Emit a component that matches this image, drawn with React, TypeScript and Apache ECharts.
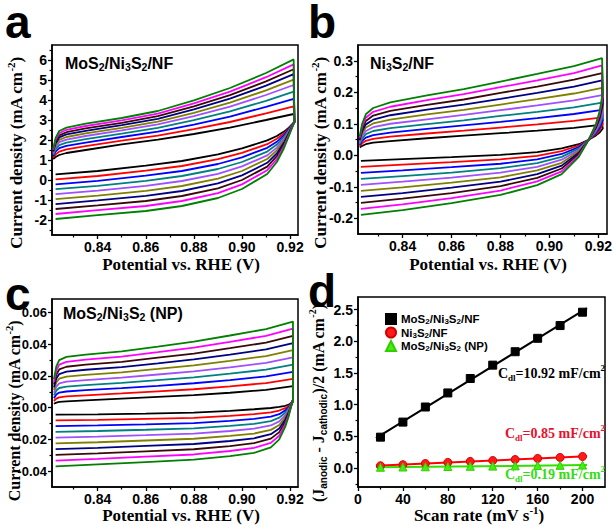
import React, { useEffect, useRef } from "react";
import * as echarts from "echarts";

// ---------- data ----------
const COLORS = ["#000000", "#ff0000", "#0000ff", "#008080", "#a050ff", "#808000", "#000080", "#3a0a0a", "#ff00ff", "#008000"];

// panel a : MoS2/Ni3S2/NF
const A_X_UP = [0.8215, 0.8225, 0.824, 0.827, 0.835, 0.85, 0.865, 0.88, 0.895, 0.91, 0.9215];
const A_UP = [
  [1.05, 1.15, 1.25, 1.35, 1.5, 1.78, 2.02, 2.3, 2.62, 3.0, 3.3],
  [1.12, 1.28, 1.42, 1.53, 1.69, 1.97, 2.22, 2.54, 2.9, 3.33, 3.68],
  [1.19, 1.42, 1.59, 1.71, 1.87, 2.15, 2.42, 2.77, 3.17, 3.66, 4.06],
  [1.26, 1.54, 1.74, 1.87, 2.04, 2.32, 2.61, 2.99, 3.43, 3.96, 4.42],
  [1.32, 1.65, 1.89, 2.02, 2.2, 2.48, 2.78, 3.19, 3.67, 4.25, 4.75],
  [1.37, 1.75, 2.01, 2.15, 2.33, 2.61, 2.92, 3.36, 3.87, 4.48, 5.02],
  [1.42, 1.84, 2.13, 2.28, 2.46, 2.74, 3.06, 3.53, 4.07, 4.72, 5.29],
  [1.46, 1.93, 2.23, 2.39, 2.58, 2.86, 3.19, 3.68, 4.24, 4.93, 5.54],
  [1.51, 2.02, 2.34, 2.51, 2.7, 2.98, 3.32, 3.83, 4.42, 5.14, 5.78],
  [1.55, 2.1, 2.45, 2.62, 2.82, 3.1, 3.45, 3.98, 4.6, 5.35, 6.03],
];
const A_X_DN = [0.9218, 0.9195, 0.9175, 0.9145, 0.9105, 0.9, 0.89, 0.875, 0.86, 0.84, 0.8225];
const A_DN = [
  [2.9, 2.62, 2.42, 2.2, 1.98, 1.58, 1.28, 0.95, 0.72, 0.45, 0.28],
  [2.9, 2.57, 2.33, 2.06, 1.79, 1.36, 1.04, 0.7, 0.47, 0.2, 0.03],
  [2.9, 2.53, 2.24, 1.91, 1.61, 1.13, 0.8, 0.45, 0.22, -0.04, -0.22],
  [2.9, 2.48, 2.15, 1.77, 1.42, 0.9, 0.55, 0.2, -0.04, -0.29, -0.46],
  [2.9, 2.43, 2.06, 1.62, 1.23, 0.68, 0.31, -0.05, -0.29, -0.53, -0.71],
  [2.9, 2.39, 1.96, 1.48, 1.05, 0.45, 0.07, -0.3, -0.54, -0.78, -0.96],
  [2.9, 2.34, 1.87, 1.33, 0.86, 0.23, -0.17, -0.55, -0.79, -1.02, -1.21],
  [2.9, 2.29, 1.78, 1.19, 0.67, 0.0, -0.42, -0.8, -1.05, -1.27, -1.45],
  [2.9, 2.25, 1.69, 1.04, 0.49, -0.22, -0.66, -1.05, -1.3, -1.51, -1.7],
  [2.9, 2.2, 1.6, 0.9, 0.3, -0.45, -0.9, -1.3, -1.55, -1.76, -1.95],
];

// panel b : Ni3S2/NF
const B_X_UP = [0.8225, 0.8235, 0.825, 0.828, 0.835, 0.85, 0.865, 0.88, 0.895, 0.91, 0.9215];
const B_UP = [
  [0.025, 0.03, 0.035, 0.04, 0.045, 0.054, 0.062, 0.07, 0.078, 0.087, 0.097],
  [0.029, 0.038, 0.046, 0.052, 0.059, 0.069, 0.078, 0.088, 0.098, 0.109, 0.12],
  [0.033, 0.046, 0.056, 0.064, 0.072, 0.084, 0.095, 0.106, 0.118, 0.131, 0.144],
  [0.037, 0.053, 0.067, 0.077, 0.086, 0.099, 0.111, 0.125, 0.138, 0.152, 0.167],
  [0.041, 0.061, 0.077, 0.089, 0.1, 0.114, 0.128, 0.143, 0.158, 0.174, 0.191],
  [0.045, 0.069, 0.088, 0.101, 0.113, 0.13, 0.144, 0.161, 0.178, 0.196, 0.214],
  [0.048, 0.077, 0.098, 0.113, 0.127, 0.145, 0.161, 0.179, 0.198, 0.218, 0.238],
  [0.052, 0.084, 0.109, 0.126, 0.141, 0.16, 0.177, 0.198, 0.218, 0.24, 0.261],
  [0.056, 0.092, 0.119, 0.138, 0.154, 0.175, 0.194, 0.216, 0.238, 0.261, 0.285],
  [0.06, 0.1, 0.13, 0.15, 0.168, 0.19, 0.21, 0.234, 0.258, 0.283, 0.308],
];
const B_X_DN = [0.9218, 0.9205, 0.919, 0.916, 0.912, 0.905, 0.895, 0.88, 0.86, 0.84, 0.823];
const B_DN = [
  [0.085, 0.072, 0.063, 0.049, 0.035, 0.022, 0.01, 0.001, -0.006, -0.012, -0.018],
  [0.098, 0.08, 0.067, 0.049, 0.031, 0.013, -0.002, -0.013, -0.022, -0.03, -0.037],
  [0.111, 0.087, 0.071, 0.049, 0.026, 0.004, -0.013, -0.027, -0.038, -0.048, -0.056],
  [0.123, 0.095, 0.075, 0.049, 0.022, -0.005, -0.025, -0.041, -0.055, -0.066, -0.075],
  [0.136, 0.102, 0.079, 0.049, 0.017, -0.014, -0.037, -0.055, -0.071, -0.084, -0.094],
  [0.149, 0.11, 0.084, 0.049, 0.013, -0.024, -0.048, -0.07, -0.087, -0.102, -0.113],
  [0.162, 0.117, 0.088, 0.049, 0.008, -0.033, -0.06, -0.084, -0.103, -0.12, -0.132],
  [0.174, 0.125, 0.092, 0.049, 0.004, -0.042, -0.072, -0.098, -0.12, -0.138, -0.151],
  [0.187, 0.132, 0.096, 0.049, -0.001, -0.051, -0.083, -0.112, -0.136, -0.156, -0.17],
  [0.2, 0.14, 0.1, 0.049, -0.005, -0.06, -0.095, -0.126, -0.152, -0.174, -0.189],
];

// panel c : MoS2/Ni3S2 (NP)
const C_X_UP = [0.8218, 0.8228, 0.824, 0.827, 0.835, 0.85, 0.865, 0.88, 0.895, 0.91, 0.9212];
const C_UP = [
  [0.0025, 0.0032, 0.0036, 0.004, 0.0046, 0.0057, 0.0068, 0.0079, 0.0094, 0.0112, 0.0136],
  [0.0042, 0.0057, 0.0065, 0.0071, 0.0078, 0.009, 0.0103, 0.0116, 0.0134, 0.0155, 0.0181],
  [0.0059, 0.0083, 0.0095, 0.0102, 0.011, 0.0123, 0.0138, 0.0154, 0.0174, 0.0197, 0.0226],
  [0.0077, 0.0108, 0.0124, 0.0133, 0.0142, 0.0156, 0.0174, 0.0191, 0.0214, 0.024, 0.0272],
  [0.0094, 0.0133, 0.0153, 0.0164, 0.0174, 0.0189, 0.0209, 0.0229, 0.0254, 0.0282, 0.0317],
  [0.0111, 0.0159, 0.0183, 0.0196, 0.0207, 0.0223, 0.0244, 0.0266, 0.0295, 0.0325, 0.0362],
  [0.0128, 0.0184, 0.0212, 0.0227, 0.0239, 0.0256, 0.0279, 0.0304, 0.0335, 0.0367, 0.0407],
  [0.0146, 0.0209, 0.0241, 0.0258, 0.0271, 0.0289, 0.0315, 0.0341, 0.0375, 0.041, 0.0453],
  [0.0163, 0.0235, 0.0271, 0.0289, 0.0303, 0.0322, 0.035, 0.0379, 0.0415, 0.0453, 0.0498],
  [0.018, 0.026, 0.03, 0.032, 0.0335, 0.0355, 0.0385, 0.0416, 0.0455, 0.0495, 0.0543],
];
const C_X_DN = [0.9212, 0.9205, 0.9195, 0.918, 0.9155, 0.912, 0.905, 0.895, 0.88, 0.86, 0.84, 0.8225];
const C_DN = [
  [0.005, 0.003, 0.002, 0.0012, 0.0005, -0.0002, -0.001, -0.002, -0.0031, -0.0037, -0.0042, -0.0044],
  [0.0049, 0.0028, 0.0012, -0.0003, -0.0018, -0.003, -0.0041, -0.0052, -0.0064, -0.0071, -0.0077, -0.008],
  [0.0048, 0.0026, 0.0004, -0.0017, -0.0041, -0.0057, -0.0071, -0.0083, -0.0097, -0.0105, -0.0112, -0.0116],
  [0.0047, 0.0023, -0.0003, -0.0032, -0.0063, -0.0085, -0.0102, -0.0115, -0.013, -0.0139, -0.0147, -0.0153],
  [0.0046, 0.0021, -0.0011, -0.0047, -0.0086, -0.0112, -0.0132, -0.0147, -0.0163, -0.0173, -0.0182, -0.0189],
  [0.0044, 0.0019, -0.0019, -0.0061, -0.0109, -0.014, -0.0163, -0.0178, -0.0196, -0.0207, -0.0218, -0.0225],
  [0.0043, 0.0017, -0.0027, -0.0076, -0.0132, -0.0167, -0.0193, -0.021, -0.0229, -0.0241, -0.0253, -0.0261],
  [0.0042, 0.0014, -0.0034, -0.0091, -0.0154, -0.0195, -0.0224, -0.0242, -0.0262, -0.0275, -0.0288, -0.0298],
  [0.0041, 0.0012, -0.0042, -0.0105, -0.0177, -0.0222, -0.0254, -0.0273, -0.0295, -0.0309, -0.0323, -0.0334],
  [0.004, 0.001, -0.005, -0.012, -0.02, -0.025, -0.0285, -0.0305, -0.0328, -0.0343, -0.0358, -0.037],
];

// panel d : (Ja - Jc)/2 vs scan rate
const SCAN = [20, 40, 60, 80, 100, 120, 140, 160, 180, 200];
const D_MNF = [0.487, 0.725, 0.963, 1.185, 1.413, 1.624, 1.836, 2.048, 2.249, 2.46];
const D_NF = [0.036, 0.052, 0.071, 0.088, 0.104, 0.118, 0.134, 0.151, 0.166, 0.182];
const D_NP = [0.012, 0.016, 0.019, 0.023, 0.027, 0.03, 0.034, 0.038, 0.042, 0.046];
const D_NAMES = ["MoS2/Ni3S2/NF", "Ni3S2/NF", "MoS2/Ni3S2 (NP)"];

// tick values
const X_CV_MAJOR = [0.84, 0.86, 0.88, 0.9, 0.92];
const X_CV_MINOR = [0.83, 0.85, 0.87, 0.89, 0.91];
const A_Y_MAJOR = [-2, -1, 0, 1, 2, 3, 4, 5, 6];
const A_Y_MINOR = [-2.5, -1.5, -0.5, 0.5, 1.5, 2.5, 3.5, 4.5, 5.5, 6.5];
const B_Y_MAJOR = [-0.2, -0.1, 0, 0.1, 0.2, 0.3];
const B_Y_MINOR = [-0.15, -0.05, 0.05, 0.15, 0.25];
const C_Y_MAJOR = [-0.04, -0.02, 0, 0.02, 0.04, 0.06];
const C_Y_MINOR = [-0.03, -0.01, 0.01, 0.03, 0.05];
const D_X_MAJOR = [0, 40, 80, 120, 160, 200];
const D_X_MINOR = [20, 60, 100, 140, 180];
const D_Y_MAJOR = [0, 0.5, 1, 1.5, 2, 2.5];
const D_Y_MINOR = [-0.25, 0.25, 0.75, 1.25, 1.75, 2.25];

// ---------- helpers ----------
const SANS = "'Liberation Sans', Arial, Helvetica, sans-serif";
const SERIF = "'Liberation Serif', 'Times New Roman', serif";

function axisPair(dim: string, grid: number, min: number, max: number, major: number[], minor: number[], digits: number, fontSize = 14) {
  const common: any = { type: "value", gridIndex: grid, min, max, splitLine: { show: false }, position: dim === "x" ? "bottom" : "left", scale: true };
  const main = {
    ...common,
    axisLine: { show: true, onZero: false, lineStyle: { color: "#000", width: 1.5 } },
    axisTick: { show: true, inside: false, length: 4, customValues: major, lineStyle: { color: "#000", width: 1.3 } },
    axisLabel: {
      show: true, customValues: major, margin: dim === "x" ? 5 : 5, color: "#000", fontFamily: SANS, fontWeight: "bold", fontSize,
      formatter: (v: number) => Number(v).toFixed(digits),
    },
  };
  const mn = {
    ...common,
    axisLine: { show: false, onZero: false },
    axisTick: { show: true, inside: false, length: 2.5, customValues: minor, lineStyle: { color: "#000", width: 1.2 } },
    axisLabel: { show: false },
  };
  return [main, mn];
}

function subRich(str: string) {
  return ("{t|" + str.replace(/(\d+)/g, "}{s|$1}{t|") + "}").replace(/\{t\|\}/g, "");
}

function fitLine(xs: number[], ys: number[], x0: number, x1: number) {
  const n = xs.length;
  const mx = xs.reduce((a, b) => a + b, 0) / n;
  const my = ys.reduce((a, b) => a + b, 0) / n;
  let sxy = 0, sxx = 0;
  for (let i = 0; i < n; i++) { sxy += (xs[i] - mx) * (ys[i] - my); sxx += (xs[i] - mx) ** 2; }
  const b = sxy / sxx, a = my - b * mx;
  return [[x0, a + b * x0], [x1, a + b * x1]];
}

const tStyle = (size: number, family: string, color = "#000") => ({ fontFamily: family, fontSize: size, fontWeight: "bold", fill: color, color });

function textEl(x: number, y: number, text: string, opt: any = {}) {
  const style: any = {
    text, align: opt.align || "center", verticalAlign: "middle",
    fontFamily: opt.family || SERIF, fontSize: opt.size || 17, fontWeight: "bold",
    fill: opt.color || "#000",
  };
  if (opt.rich) style.rich = opt.rich;
  if (opt.lineHeight) style.lineHeight = opt.lineHeight;
  return { type: "text", x, y, rotation: opt.rot || 0, silent: true, z: 100, style };
}

function buildOption() {
  const grids = [
    { left: 52, top: 45, width: 246, height: 190 },
    { left: 358, top: 45, width: 249, height: 189 },
    { left: 52, top: 299, width: 246, height: 188 },
    { left: 358, top: 297, width: 247, height: 190 },
  ].map((g) => ({ ...g, show: true, borderColor: "#000", borderWidth: 1.5, backgroundColor: "transparent", containLabel: false, outerBoundsMode: "none" }));

  const xa = [
    axisPair("x", 0, 0.821, 0.9233, X_CV_MAJOR, X_CV_MINOR, 2),
    axisPair("x", 1, 0.8218, 0.9235, X_CV_MAJOR, X_CV_MINOR, 2),
    axisPair("x", 2, 0.821, 0.9233, X_CV_MAJOR, X_CV_MINOR, 2),
    axisPair("x", 3, 0, 220, D_X_MAJOR, D_X_MINOR, 0),
  ];
  const ya = [
    axisPair("y", 0, -2.75, 6.75, A_Y_MAJOR, A_Y_MINOR, 0),
    axisPair("y", 1, -0.25, 0.35, B_Y_MAJOR, B_Y_MINOR, 1),
    axisPair("y", 2, -0.05, 0.0685, C_Y_MAJOR, C_Y_MINOR, 2, 13),
    axisPair("y", 3, -0.3, 2.7, D_Y_MAJOR, D_Y_MINOR, 1),
  ];
  const xAxis = xa.map((p) => p[0]).concat(xa.map((p) => p[1]));
  const yAxis = ya.map((p) => p[0]).concat(ya.map((p) => p[1]));

  const series: any[] = [];
  const panels = [
    { xu: A_X_UP, up: A_UP, xd: A_X_DN, dn: A_DN },
    { xu: B_X_UP, up: B_UP, xd: B_X_DN, dn: B_DN },
    { xu: C_X_UP, up: C_UP, xd: C_X_DN, dn: C_DN },
  ];
  panels.forEach((p, gi) => {
    for (let i = 0; i < 10; i++) {
      const data = p.xu.map((x, k) => [x, p.up[i][k]]).concat(p.xd.map((x, k) => [x, p.dn[i][k]]));
      series.push({
        type: "line", xAxisIndex: gi, yAxisIndex: gi, data, showSymbol: false, symbol: "none", silent: true,
        lineStyle: { color: COLORS[i], width: 1.8 }, itemStyle: { color: COLORS[i] },
      });
    }
  });

  const dSets = [
    { name: D_NAMES[0], ys: D_MNF, color: "#000000", line: "#000000", symbol: "rect", border: "#000000" },
    { name: D_NAMES[1], ys: D_NF, color: "#ff1a1a", line: "#ff0000", symbol: "circle", border: "#d00000" },
    { name: D_NAMES[2], ys: D_NP, color: "#44ee11", line: "#33dd00", symbol: "triangle", border: "#33cc00" },
  ];
  dSets.forEach((s) => {
    series.push({
      type: "line", xAxisIndex: 3, yAxisIndex: 3, data: fitLine(SCAN, s.ys, 16, 204), showSymbol: false, symbol: "none",
      silent: true, lineStyle: { color: s.line, width: 2 }, z: 3,
    });
  });
  dSets.forEach((s) => {
    series.push({
      name: s.name, type: "scatter", xAxisIndex: 3, yAxisIndex: 3, data: SCAN.map((x, k) => [x, s.ys[k]]),
      symbol: s.symbol, symbolSize: 8, itemStyle: { color: s.color, borderColor: s.border, borderWidth: 1, opacity: 1 }, z: 4,
    });
  });

  const subR = (size: number, sub: number, family = SANS) => ({
    t: { ...tStyle(size, family), lineHeight: size + 3 },
    s: { ...tStyle(sub, family), lineHeight: sub + 1, verticalAlign: "bottom" },
  });
  const supR = (size: number, sup: number, color = "#000") => ({
    t: { ...tStyle(size, SERIF, color), lineHeight: size + 5 },
    s: { ...tStyle(sup, SERIF, color), lineHeight: sup, verticalAlign: "bottom" },
    p: { ...tStyle(sup, SERIF, color), lineHeight: sup, verticalAlign: "top" },
  });

  const yTitle = "{t|Current density (mA cm}{p|-2}{t|)}";
  const cdl = (val: string) => "{t|C}{s|dl}{t|=" + val + " mF/cm}{p|2}";
  const dTitleRich = {
    t: { ...tStyle(16, SERIF), lineHeight: 21 },
    s: { ...tStyle(10, SANS), lineHeight: 10, verticalAlign: "bottom" },
    p: { ...tStyle(10, SERIF), lineHeight: 10, verticalAlign: "top" },
  };

  const letter = { align: "left", family: SANS, size: 46, lineHeight: 34 };
  const graphic = [
    textEl(5, 22, "a", letter),
    textEl(308, 22, "b", letter),
    textEl(5, 294, "c", letter),
    textEl(308, 291, "d", letter),
    textEl(65, 63, subRich("MoS2/Ni3S2/NF"), { align: "left", rich: subR(16, 10.5) }),
    textEl(370, 63, subRich("Ni3S2/NF"), { align: "left", rich: subR(16, 10.5) }),
    textEl(63, 313, subRich("MoS2/Ni3S2 (NP)"), { align: "left", rich: subR(16, 10.5) }),
    textEl(16, 153, yTitle, { rot: Math.PI / 2, rich: supR(17, 11) }),
    textEl(320, 153, yTitle, { rot: Math.PI / 2, rich: supR(17, 11) }),
    textEl(14, 411, yTitle, { rot: Math.PI / 2, rich: supR(16, 10.5) }),
    textEl(318, 403, "{t|(J}{s|anodic}{t| - J}{s|cathodic}{t|)/2 (mA cm}{p|-2}{t|)}", { rot: Math.PI / 2, rich: dTitleRich }),
    textEl(181, 264, "Potential vs. RHE (V)", { size: 17 }),
    textEl(488, 264, "Potential vs. RHE (V)", { size: 17 }),
    textEl(181, 515, "Potential vs. RHE (V)", { size: 17 }),
    textEl(479, 515, "{t|Scan rate (mV s}{p|-1}{t|)}", { rich: supR(17, 11) }),
    textEl(498, 373, cdl("10.92"), { align: "left", rich: supR(14, 9) }),
    textEl(505, 433, cdl("0.85"), { align: "left", rich: supR(14, 9, "#e8102e") }),
    textEl(505, 474, cdl("0.19"), { align: "left", rich: supR(14, 9, "#33dd11") }),
  ];

  const legendRich = {
    t: { fontFamily: SANS, fontSize: 11.5, fontWeight: "bold", color: "#000", lineHeight: 13 },
    s: { fontFamily: SANS, fontSize: 8, fontWeight: "bold", color: "#000", lineHeight: 9, verticalAlign: "bottom" },
  };

  return {
    animation: false,
    backgroundColor: "#ffffff",
    grid: grids,
    xAxis,
    yAxis,
    series,
    graphic,
    legend: {
      show: true, left: 380, top: 308, orient: "vertical", itemWidth: 10, itemHeight: 10, itemGap: 1,
      selectedMode: false,
      data: [
        { name: D_NAMES[0], icon: "rect" },
        { name: D_NAMES[1], icon: "circle" },
        { name: D_NAMES[2], icon: "triangle" },
      ],
      formatter: (n: string) => subRich(n),
      textStyle: { rich: legendRich, fontFamily: SANS, fontSize: 11.5, fontWeight: "bold", color: "#000" },
    },
  };
}

export default function App() {
  const ref = useRef<HTMLDivElement>(null);
  useEffect(() => {
    if (!ref.current) return;
    const chart = echarts.init(ref.current, null, { renderer: "svg" });
    chart.setOption(buildOption() as any);
    return () => chart.dispose();
  }, []);
  return (
    <div
      ref={ref}
      style={{ position: "fixed", left: 0, top: 0, width: 614, height: 525, background: "#fff" }}
    />
  );
}
